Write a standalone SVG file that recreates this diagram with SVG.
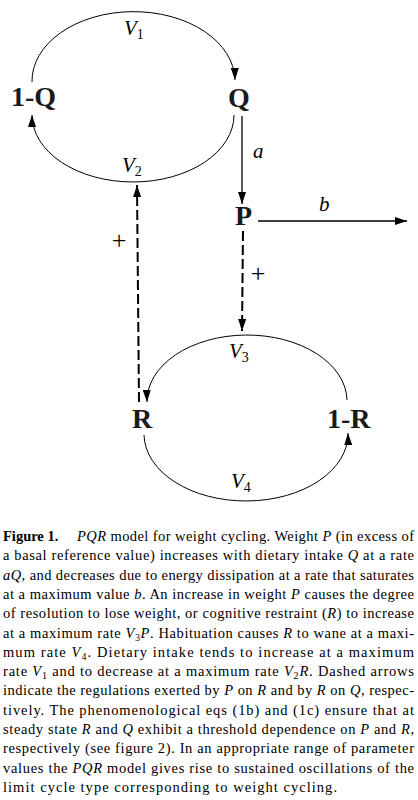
<svg xmlns="http://www.w3.org/2000/svg" width="418" height="800" viewBox="0 0 418 800">
<style>
.bg{fill:#fff}
.node{font-family:"Liberation Serif","Times New Roman",serif;font-weight:bold;font-size:28px;fill:#1a1a1a}
.arc{fill:none;stroke:#000;stroke-width:1}
.solid{fill:none;stroke:#000;stroke-width:1.3}
.dash{fill:none;stroke:#000;stroke-width:2;stroke-dasharray:10 4}
.lab{font-family:"Liberation Serif","Times New Roman",serif;font-style:italic;font-size:21px;fill:#000}
.sub{font-style:normal;font-size:14px}
.plus{font-family:"Liberation Serif","Times New Roman",serif;font-size:26px;fill:#000}
.cap{font-family:"Liberation Serif","Times New Roman",serif;font-size:14.5px;fill:#000}
.i{font-style:italic}
.b{font-weight:bold}
.s{font-size:10px}
</style>
<defs>
<marker id="ah" markerWidth="12" markerHeight="8" refX="12" refY="4" orient="auto" markerUnits="userSpaceOnUse">
<path d="M0,0 L12,4 L0,8 z" fill="#000" stroke="none"/>
</marker>
</defs>
<rect class="bg" x="0" y="0" width="418" height="800"/>

<g id="connectors">
<path class="arc" d="M32,82 A101,69 0 0 1 235,80" marker-end="url(#ah)"/>
<path class="arc" d="M234,115 A101,67 0 0 1 32,115" marker-end="url(#ah)"/>
<path class="arc" d="M347,400 A100,66 0 0 0 147,402" marker-end="url(#ah)"/>
<path class="arc" d="M144,435 A102,67 0 0 0 348,433" marker-end="url(#ah)"/>
<path class="solid" d="M242,116 L242,204" marker-end="url(#ah)"/>
<path class="solid" d="M258,221 L407,221" marker-end="url(#ah)"/>
<path class="dash" d="M243,231 L242,331" marker-end="url(#ah)"/>
<path class="dash" d="M139,402 L137,185" marker-end="url(#ah)"/>
<text class="lab" x="124" y="35">V<tspan class="sub" dy="4">1</tspan></text>
<text class="lab" x="122" y="172">V<tspan class="sub" dy="4">2</tspan></text>
<text class="lab" x="229" y="358">V<tspan class="sub" dy="4">3</tspan></text>
<text class="lab" x="231" y="488">V<tspan class="sub" dy="4">4</tspan></text>
<text class="lab" x="253" y="158">a</text>
<text class="lab" x="319" y="211">b</text>
<text class="plus" x="119" y="249" text-anchor="middle">+</text>
<text class="plus" x="258" y="282" text-anchor="middle">+</text>
</g>

<g id="node-1Q"><text class="node" x="11" y="106">1-Q</text></g>
<g id="node-Q"><text class="node" x="239" y="107" text-anchor="middle">Q</text></g>
<g id="node-P"><text class="node" x="243.5" y="225" text-anchor="middle">P</text></g>
<g id="node-R"><text class="node" x="142" y="428" text-anchor="middle">R</text></g>
<g id="node-1R"><text class="node" x="327" y="428">1-R</text></g>

<g id="caption" class="cap">
<text x="3" y="541" class="b">Figure 1.</text>
<text x="77" y="541" textLength="337" lengthAdjust="spacing"><tspan class="i">PQR</tspan> model for weight cycling. Weight <tspan class="i">P</tspan> (in excess of</text>
<text x="3" y="560.3" textLength="411" lengthAdjust="spacing">a basal reference value) increases with dietary intake <tspan class="i">Q</tspan> at a rate</text>
<text x="3" y="579.6" textLength="411" lengthAdjust="spacing"><tspan class="i">aQ</tspan>, and decreases due to energy dissipation at a rate that saturates</text>
<text x="3" y="598.9" textLength="411" lengthAdjust="spacing">at a maximum value <tspan class="i">b</tspan>. An increase in weight <tspan class="i">P</tspan> causes the degree</text>
<text x="3" y="618.2" textLength="411" lengthAdjust="spacing">of resolution to lose weight, or cognitive restraint (<tspan class="i">R</tspan>) to increase</text>
<text x="3" y="637.5" textLength="411" lengthAdjust="spacing">at a maximum rate <tspan class="i">V</tspan><tspan class="s" dy="3">3</tspan><tspan class="i" dy="-3">P</tspan>. Habituation causes <tspan class="i">R</tspan> to wane at a maxi-</text>
<text x="3" y="656.8" textLength="411" lengthAdjust="spacing">mum rate <tspan class="i">V</tspan><tspan class="s" dy="3">4</tspan><tspan dy="-3">. Dietary intake tends to increase at a maximum</tspan></text>
<text x="3" y="676.1" textLength="411" lengthAdjust="spacing">rate <tspan class="i">V</tspan><tspan class="s" dy="3">1</tspan><tspan dy="-3"> and to decrease at a maximum rate </tspan><tspan class="i">V</tspan><tspan class="s" dy="3">2</tspan><tspan class="i" dy="-3">R</tspan>. Dashed arrows</text>
<text x="3" y="695.4" textLength="411" lengthAdjust="spacing">indicate the regulations exerted by <tspan class="i">P</tspan> on <tspan class="i">R</tspan> and by <tspan class="i">R</tspan> on <tspan class="i">Q</tspan>, respec-</text>
<text x="3" y="714.7" textLength="411" lengthAdjust="spacing">tively. The phenomenological eqs (1b) and (1c) ensure that at</text>
<text x="3" y="734" textLength="411" lengthAdjust="spacing">steady state <tspan class="i">R</tspan> and <tspan class="i">Q</tspan> exhibit a threshold dependence on <tspan class="i">P</tspan> and <tspan class="i">R</tspan>,</text>
<text x="3" y="753.3" textLength="411" lengthAdjust="spacing">respectively (see figure 2). In an appropriate range of parameter</text>
<text x="3" y="772.6" textLength="411" lengthAdjust="spacing">values the <tspan class="i">PQR</tspan> model gives rise to sustained oscillations of the</text>
<text x="3" y="791.9" textLength="334" lengthAdjust="spacing">limit cycle type corresponding to weight cycling.</text>
</g>
</svg>
